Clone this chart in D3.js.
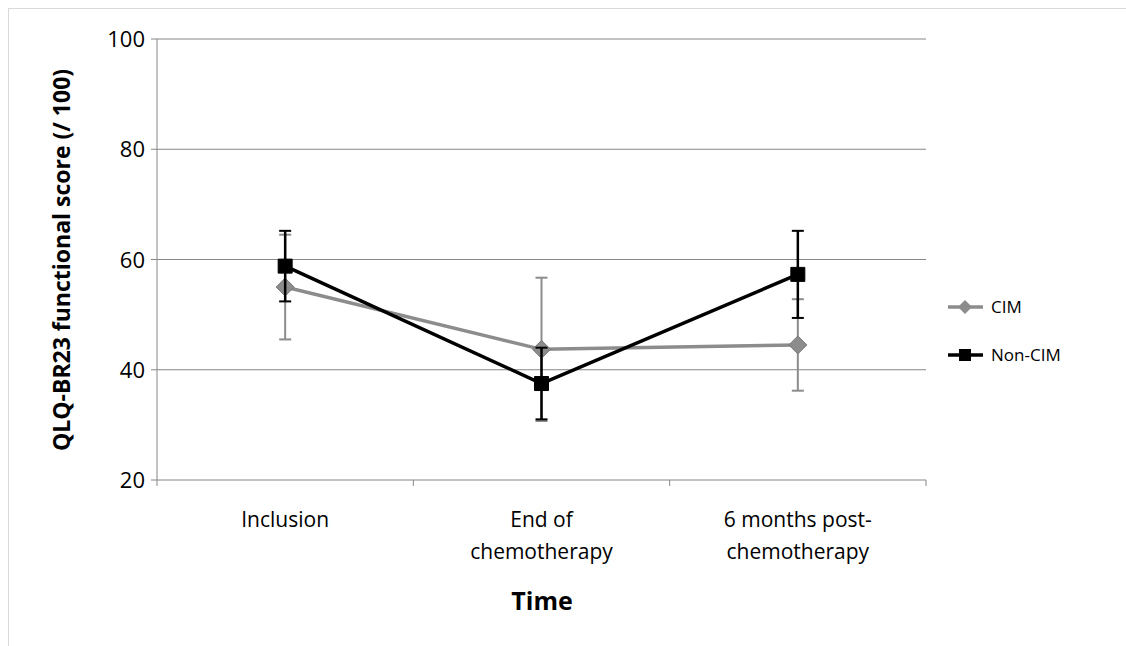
<!DOCTYPE html>
<html><head><meta charset="utf-8">
<script src="https://cdn.jsdelivr.net/npm/d3@7"></script>
<style>body{margin:0;background:#fff}text{font-family:"Open Sans","Liberation Sans",sans-serif}</style>
</head><body><svg id="c" width="1126" height="646"></svg>
<script>
var categories = [["Inclusion"], ["End of", "chemotherapy"], ["6 months post-", "chemotherapy"]];
var cimValues = [55, 43.7, 44.5];
var cimErrors = [9.5, 13, 8.3];
var nonCimValues = [58.8, 37.5, 57.3];
var nonCimErrors = [6.4, 6.5, 7.9];
var yTicks = [20, 40, 60, 80, 100];

var svg = d3.select("#c");
var m = {l: 157, r: 926, t: 39, b: 480};
svg.append("rect").attr("x", 8.5).attr("y", 8.5).attr("width", 1130).attr("height", 650)
  .attr("fill", "none").attr("stroke", "#d9d9d9");

var x = d3.scaleBand().domain(d3.range(categories.length)).range([m.l, m.r]);
var y = d3.scaleLinear().domain([20, 100]).range([m.b, m.t]);

svg.selectAll(".grid").data(yTicks).enter().append("line")
  .attr("x1", m.l).attr("x2", m.r).attr("y1", d => y(d)).attr("y2", d => y(d))
  .attr("stroke", "#868686");
svg.append("line").attr("x1", m.l).attr("x2", m.l).attr("y1", m.t).attr("y2", m.b).attr("stroke", "#868686");
svg.selectAll(".ytk").data(yTicks).enter().append("line")
  .attr("x1", m.l - 6).attr("x2", m.l).attr("y1", d => y(d)).attr("y2", d => y(d)).attr("stroke", "#868686");
svg.selectAll(".xtk").data(d3.range(categories.length + 1)).enter().append("line")
  .attr("x1", d => m.l + d * x.step()).attr("x2", d => m.l + d * x.step())
  .attr("y1", m.b).attr("y2", m.b + 6).attr("stroke", "#868686");
svg.selectAll(".ylab").data(yTicks).enter().append("text")
  .attr("x", m.l - 12).attr("y", d => y(d) + 8).attr("text-anchor", "end")
  .attr("font-size", 22).attr("fill", "#000").text(d => d);

categories.forEach(function(lines, i) {
  var t = svg.append("text").attr("text-anchor", "middle").attr("font-size", 21)
    .attr("x", x(i) + x.bandwidth() / 2).attr("y", 527);
  lines.forEach(function(s, j) {
    t.append("tspan").attr("x", x(i) + x.bandwidth() / 2).attr("dy", j ? 32 : 0).text(s);
  });
});

svg.append("text").attr("x", 542).attr("y", 610).attr("text-anchor", "middle")
  .attr("font-size", 25).attr("font-weight", "bold").text("Time");
svg.append("text").attr("transform", "translate(70,260) rotate(-90)").attr("text-anchor", "middle")
  .attr("font-size", 23).attr("font-weight", "bold").text("QLQ-BR23  functional score (/ 100)");

var cx = i => x(i) + x.bandwidth() / 2;
function marker(shape, r) {
  return shape === "diamond" ? "M0," + (-r) + "L" + r + ",0L0," + r + "L" + (-r) + ",0Z"
    : "M" + (-r) + "," + (-r) + "H" + r + "V" + r + "H" + (-r) + "Z";
}
function series(vals, errs, color, shape) {
  var g = svg.append("g");
  vals.forEach(function(v, i) {
    g.append("line").attr("x1", cx(i)).attr("x2", cx(i)).attr("y1", y(v - errs[i])).attr("y2", y(v + errs[i]))
      .attr("stroke", color).attr("stroke-width", shape === "square" ? 2.5 : 2);
    [v - errs[i], v + errs[i]].forEach(function(e) {
      g.append("line").attr("x1", cx(i) - 6).attr("x2", cx(i) + 6).attr("y1", y(e)).attr("y2", y(e))
        .attr("stroke", color).attr("stroke-width", 2);
    });
  });
  g.append("path").datum(vals).attr("fill", "none").attr("stroke", color).attr("stroke-width", 3.5)
    .attr("d", d3.line().x((d, i) => cx(i)).y(d => y(d)));
  g.selectAll(".pt").data(vals).enter().append("path")
    .attr("transform", (d, i) => "translate(" + cx(i) + "," + y(d) + ")")
    .attr("d", marker(shape, shape === "square" ? 7 : 9))
    .attr("fill", color).attr("stroke", shape === "square" ? "#000" : "#777").attr("stroke-width", 1);
}
series(cimValues, cimErrors, "#8c8c8c", "diamond");
series(nonCimValues, nonCimErrors, "#000", "square");

var legend = [["CIM", "#8c8c8c", "diamond", 307], ["Non-CIM", "#000", "square", 355]];
legend.forEach(function(l) {
  svg.append("line").attr("x1", 948).attr("x2", 983).attr("y1", l[3]).attr("y2", l[3])
    .attr("stroke", l[1]).attr("stroke-width", 3.5);
  svg.append("path").attr("transform", "translate(965," + l[3] + ")")
    .attr("d", marker(l[2], l[2] === "square" ? 6 : 7)).attr("fill", l[1]);
  svg.append("text").attr("x", 991).attr("y", l[3] + 6).attr("font-size", 17).text(l[0]);
});
</script></body></html>
